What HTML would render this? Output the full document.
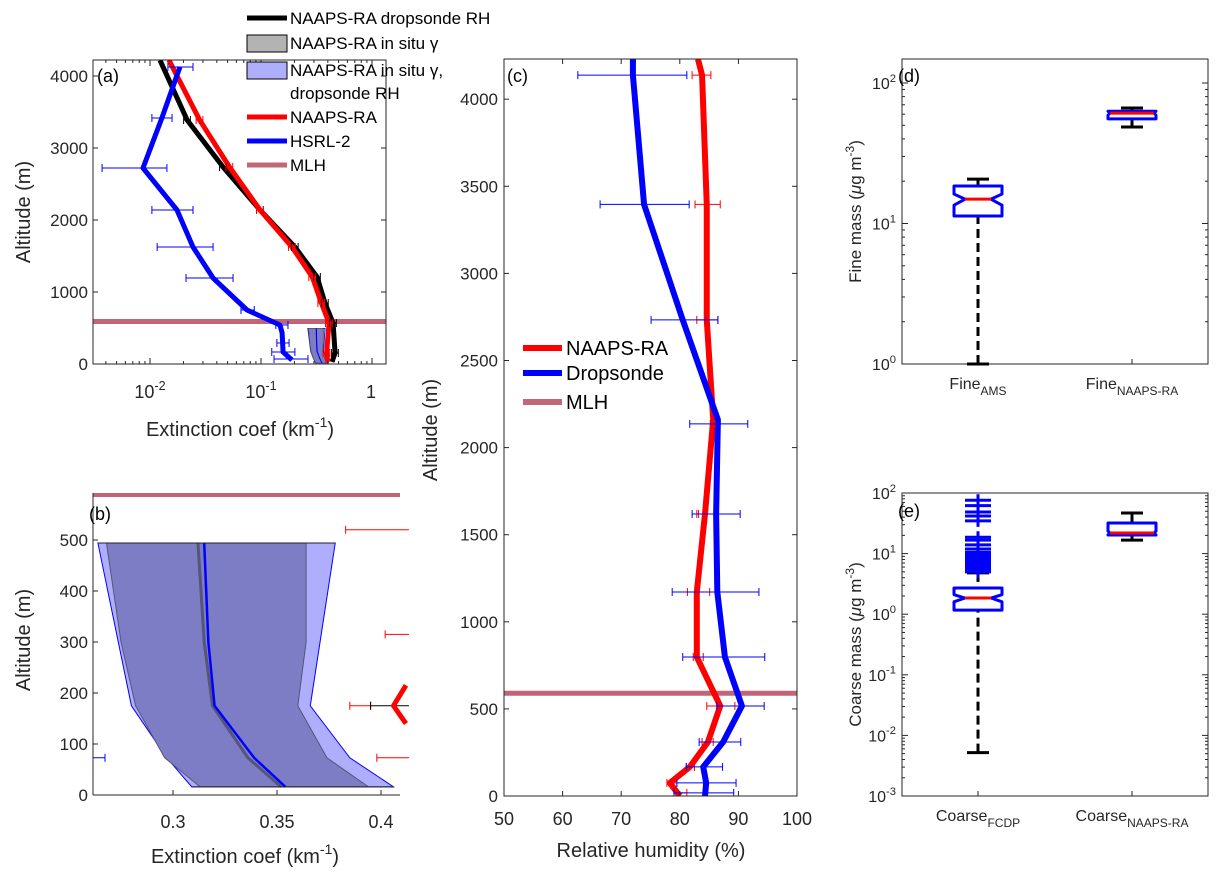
<!DOCTYPE html>
<html><head><meta charset="utf-8"><style>
html,body{margin:0;padding:0;background:#fff;}
svg{display:block;font-family:"Liberation Sans",Arial,sans-serif;}
</style></head><body>
<svg id="fig" width="1221" height="879" viewBox="0 0 1221 879" xmlns="http://www.w3.org/2000/svg">
<defs>
<clipPath id="clipA"><rect x="93" y="60" width="293" height="304"/></clipPath>
<clipPath id="clipB"><rect x="93" y="470" width="316" height="325"/></clipPath>
<clipPath id="clipC"><rect x="504" y="59" width="293" height="737"/></clipPath>
</defs>
</svg>
<script>
// ---------- Panel (a) data ----------
const aBlackAlt=[4220,3389,2736,2139,1625,1208,847,569,153,28];
const aBlackExt=[0.0123,0.0216,0.0455,0.098,0.202,0.32,0.377,0.446,0.465,0.436];
const aRedAlt=[4222,3389,2736,2139,1625,1208,847,569,153,28];
const aRedExt=[0.0148,0.028,0.052,0.098,0.19,0.29,0.35,0.41,0.39,0.40];
const aBlueAlt=[4125,3417,2722,2139,1625,1194,750,542,431,167,56];
const aBlueExt=[0.0186,0.0128,0.00865,0.0175,0.0244,0.037,0.0748,0.148,0.155,0.158,0.19];
const aBlueErrAlt=[4125,3417,2722,2139,1625,1194,750,542,292,167,69];
const aBlueErrLo=[0.0145,0.0104,0.0037,0.0104,0.0116,0.0211,0.066,0.136,0.139,0.125,0.131];
const aBlueErrHi=[0.0244,0.0158,0.0142,0.0244,0.037,0.056,0.087,0.175,0.179,0.202,0.265];
const mlhAlt=590;
// ---------- Panel (b) data ----------
const bOuterAlt=[494,175,73,16];
const bOuterLeft=[0.2639,0.280,0.297,0.309];
const bOuterRight=[0.378,0.366,0.385,0.406];
const bInnerAlt=[494,300,175,73,16];
const bInnerLeft=[0.268,0.275,0.282,0.296,0.313];
const bInnerRight=[0.364,0.364,0.360,0.374,0.394];
const bLineAlt=[494,300,175,73,16];
const bBlueLine=[0.315,0.317,0.320,0.339,0.354];
const bGrayLine=[0.312,0.315,0.319,0.336,0.352];
const bRedErrAlt=[520,315,175,73];
const bRedErrLo=[0.383,0.402,0.385,0.398];
const bRedErrHi=[0.42,0.42,0.395,0.42];
const bRedLineAlt=[215,175,140];
const bRedLineExt=[0.412,0.406,0.412];
// ---------- Panel (c) data ----------
const cRedAlt=[4230,4138,3396,3000,2733,2160,1619,1171,798,517,310,167,75,0];
const cRedRH=[83.1,83.8,84.6,84.6,84.6,85.7,84.3,82.9,82.9,86.9,84.8,81.7,78.3,80.0];
const cBlueAlt=[4230,4138,3396,2733,2160,1619,1171,798,517,310,167,75,0];
const cBlueRH=[72.0,72.0,73.9,80.5,86.5,86.2,86.4,87.7,90.6,87.4,84.0,84.5,84.3];
const cErrAlt=[4138,3396,2733,2136,1619,1171,798,517,310,167,75,18];
const cBlueLo=[62.6,66.4,75.1,81.7,82.1,78.7,80.5,86.3,83.3,81.1,79.5,79.0];
const cBlueHi=[81.2,81.6,86.5,91.6,90.3,93.5,94.5,94.4,90.4,87.3,89.6,89.2];
const cRedLo=[82.1,82.6,82.9,85.2,82.9,81.3,82.3,84.6,83.8,81.1,77.8,79.7];
const cRedHi=[85.3,86.9,86.5,86.0,83.2,85.1,84.0,89.4,85.7,82.5,79.5,81.2];
// ---------- Panel (d) data ----------
const dCats=["AMS","NAAPS-RA"];
const dWhiskLo=[1.0,48.6];
const dQ1=[11.3,55.5];
const dMedian=[14.9,61];
const dQ3=[18.5,63];
const dWhiskHi=[20.7,66.4];
const dNotchLo=[13.5,59];
const dNotchHi=[16.2,63];
// ---------- Panel (e) data ----------
const eCats=["FCDP","NAAPS-RA"];
const eWhiskLo=[0.0052,16.7];
const eQ1=[1.17,20.3];
const eMedian=[1.85,21.9];
const eQ3=[2.7,32];
const eWhiskHi=[4.8,46.8];
const eNotchLo=[1.6,20.5];
const eNotchHi=[2.1,23.5];
const eOutliers=[76,62,48.5,41.7,34.7,18.6,16.7,13.9,11.9,10.5,9.5,8.6,7.8,7.1,6.5,6.0,5.5,5.0];

// ---------- scales ----------
const L10=Math.log10;
const xA=v=>261+111*(L10(v)+1), yA=h=>364-h*0.072;
const xB=v=>173+(v-0.3)*2080, yB=h=>795-h*0.51;
const xC=r=>504+(r-50)*5.86, yC=h=>796-h*0.1742;
const yD=v=>364-140.5*L10(v);
const yE=v=>493+60.6*(2-L10(v));
const dX=[978,1132];

const svg=document.getElementById('fig');
const NS='http://www.w3.org/2000/svg';
function el(tag,attrs,parent){const e=document.createElementNS(NS,tag);for(const k in attrs)e.setAttribute(k,attrs[k]);(parent||svg).appendChild(e);return e;}
function grp(name,clip){const g=el('g',clip?{'clip-path':'url(#'+clip+')'}:{});return g;}
function poly(xs,ys,attrs,parent){return el('polyline',Object.assign({points:xs.map((x,i)=>x+','+ys[i]).join(' '),fill:'none','stroke-linejoin':'round'},attrs),parent);}
function txt(x,y,s,attrs,parent){const t=el('text',Object.assign({x:x,y:y,fill:'#262626'},attrs),parent);t.textContent=s;return t;}
function supTxt(x,y,base,sup,size,parent,anchor){const t=el('text',{x:x,y:y,'font-size':size,fill:'#262626','text-anchor':anchor||'middle'},parent);const a=el('tspan',{},t);a.textContent=base;const b=el('tspan',{dy:-size*0.45,'font-size':size*0.7},t);b.textContent=sup;return t;}
function errbar(x1,x2,y,color,cap,parent){el('line',{x1:x1,x2:x2,y1:y,y2:y,stroke:color,'stroke-width':1},parent);el('line',{x1:x1,x2:x1,y1:y-cap,y2:y+cap,stroke:color,'stroke-width':1},parent);el('line',{x1:x2,x2:x2,y1:y-cap,y2:y+cap,stroke:color,'stroke-width':1},parent);}

// ================= Panel A =================
const gA=grp('panel-a-extinction-profile');
const gAc=grp('panel-a-plot-area','clipA');gA.appendChild(gAc);
const pOuter=el('polygon',{points:bOuterAlt.map((h,i)=>xA(bOuterLeft[i])+','+yA(h)).concat(bOuterAlt.slice().reverse().map((h,i)=>xA(bOuterRight[bOuterAlt.length-1-i])+','+yA(h))).join(' '),fill:'#aeaefc',stroke:'#0000ff','stroke-width':0.8},gAc);

const pInner=el('polygon',{points:bInnerAlt.map((h,i)=>xA(bInnerLeft[i])+','+yA(h)).concat(bInnerAlt.slice().reverse().map((h,i)=>xA(bInnerRight[bInnerAlt.length-1-i])+','+yA(h))).join(' '),fill:'#7d7dc6',stroke:'#555','stroke-width':0.8},gAc);

el('polygon',{points:bInnerAlt.map((h,i)=>xA(bBlueLine[i]-0.004)+','+yA(h)).concat(bInnerAlt.slice().reverse().map((h,i)=>xA(bBlueLine[bInnerAlt.length-1-i]+0.004)+','+yA(h))).join(' '),fill:'#0000ff'},gAc);
const mA=el('line',{x1:93,x2:386,y1:yA(mlhAlt),y2:yA(mlhAlt),stroke:'#b54a60','stroke-width':5,'stroke-opacity':0.85},gAc);

const lBk=poly(aBlackAlt.map((h,i)=>xA(aBlackExt[i])),aBlackAlt.map(yA),{stroke:'#000','stroke-width':5},gAc);

const lRd=poly(aRedAlt.map((h,i)=>xA(aRedExt[i])),aRedAlt.map(yA),{stroke:'#ff0000','stroke-width':5},gAc);

aBlackAlt.forEach((h,i)=>{if(i>0&&i<aBlackAlt.length-1){errbar(xA(aBlackExt[i]*0.93),xA(aBlackExt[i]*1.07),yA(h),'#000',4,gAc);errbar(xA(aRedExt[i]*0.93),xA(aRedExt[i]*1.07),yA(h),'#ff0000',4,gAc);}});
const lBl=poly(aBlueAlt.map((h,i)=>xA(aBlueExt[i])),aBlueAlt.map(yA),{stroke:'#0000ff','stroke-width':5},gAc);

aBlueErrAlt.forEach((h,i)=>errbar(xA(aBlueErrLo[i]),xA(aBlueErrHi[i]),yA(h),'#0000ff',4,gAc));
el('rect',{x:93,y:60,width:293,height:304,fill:'none',stroke:'#262626','stroke-width':1},gA);
[0,1000,2000,3000,4000].forEach(h=>{const y=yA(h);el('line',{x1:93,x2:98,y1:y,y2:y,stroke:'#262626'},gA);el('line',{x1:381,x2:386,y1:y,y2:y,stroke:'#262626'},gA);txt(88,y+6,String(h),{'font-size':17,'text-anchor':'end'},gA);});
for(let d=-3;d<=0;d++)for(let m=1;m<10;m++){const v=m*Math.pow(10,d);const x=xA(v);if(x<93||x>386)continue;const len=m==1?6:3;el('line',{x1:x,x2:x,y1:364,y2:364-len,stroke:'#262626'},gA);el('line',{x1:x,x2:x,y1:60,y2:60+len,stroke:'#262626'},gA);}
supTxt(150,398,'10','-2',18,gA);supTxt(261,398,'10','-1',18,gA);txt(371,398,'1',{'font-size':18,'text-anchor':'middle'},gA);
supTxt(240,436,'Extinction coef (km','-1',20,gA);
txt(30,212,'Altitude (m)',{'font-size':20,'text-anchor':'middle',transform:'rotate(-90 30 212)'},gA);
txt(97,82,'(a)',{'font-size':18,fill:'#000'},gA);
const lg=grp('legend-a');
[['line','#000','NAAPS-RA dropsonde RH',18],['patch','#b3b3b3','NAAPS-RA in situ γ',43],['patch','#aeaefc','NAAPS-RA in situ γ,',70],['line','#ff0000','NAAPS-RA',117],['line','#0000ff','HSRL-2',141],['line','#c06878','MLH',165]].forEach(r=>{
 const e=grp('legend-entry');lg.appendChild(e);
 if(r[0]=='line')el('line',{x1:247,x2:287,y1:r[3],y2:r[3],stroke:r[1],'stroke-width':5},e);
 else el('rect',{x:247,y:r[3]-8,width:40,height:17,fill:r[1],stroke:'#000','stroke-width':1},e);
 txt(290,r[3]+6,r[2],{'font-size':17,fill:'#000'},e);});
txt(290,99,'dropsonde RH',{'font-size':17,fill:'#000'},lg);

// ================= Panel B =================
const gB=grp('panel-b-extinction-zoom');
const gBc=grp('panel-b-plot-area','clipB');gB.appendChild(gBc);
const pbo=el('polygon',{points:bOuterAlt.map((h,i)=>xB(bOuterLeft[i])+','+yB(h)).concat(bOuterAlt.slice().reverse().map((h,i)=>xB(bOuterRight[bOuterAlt.length-1-i])+','+yB(h))).join(' '),fill:'#aeaefc',stroke:'#0000ff','stroke-width':1},gBc);

const pbi=el('polygon',{points:bInnerAlt.map((h,i)=>xB(bInnerLeft[i])+','+yB(h)).concat(bInnerAlt.slice().reverse().map((h,i)=>xB(bInnerRight[bInnerAlt.length-1-i])+','+yB(h))).join(' '),fill:'#7d7dc6',stroke:'#555577','stroke-width':1},gBc);

poly(bLineAlt.map((h,i)=>xB(bGrayLine[i])),bLineAlt.map(yB),{stroke:'#555577','stroke-width':3},gBc);
const bbl=poly(bLineAlt.map((h,i)=>xB(bBlueLine[i])),bLineAlt.map(yB),{stroke:'#0000ff','stroke-width':2.5},gBc);

el('line',{x1:xB(bOuterLeft[0]),x2:xB(bOuterRight[0]),y1:yB(494),y2:yB(494),stroke:'#222','stroke-width':1},gBc);
el('line',{x1:xB(bOuterLeft[3]),x2:xB(bOuterRight[3]),y1:yB(16),y2:yB(16),stroke:'#222','stroke-width':1},gBc);
bRedErrAlt.forEach((h,i)=>errbar(xB(bRedErrLo[i]),xB(bRedErrHi[i]),yB(h),'#ff0000',4,gBc));
errbar(xB(0.395),xB(0.42),yB(175),'#000',4,gBc);
errbar(xB(0.25),xB(0.2673),yB(73),'#0000ff',4,gBc);
poly(bRedLineAlt.map((h,i)=>xB(bRedLineExt[i])),bRedLineAlt.map(yB),{stroke:'#ff0000','stroke-width':5},gBc);
const mB=el('line',{x1:93,x2:400,y1:495,y2:495,stroke:'#b54a60','stroke-width':4,'stroke-opacity':0.85},gB);

el('line',{x1:93,x2:93,y1:493,y2:795,stroke:'#262626'},gB);
el('line',{x1:93,x2:400,y1:795,y2:795,stroke:'#262626'},gB);
[0,100,200,300,400,500].forEach(h=>{const y=yB(h);el('line',{x1:93,x2:98,y1:y,y2:y,stroke:'#262626'},gB);txt(88,y+6,String(h),{'font-size':17,'text-anchor':'end'},gB);});
[[0.3,'0.3'],[0.35,'0.35'],[0.4,'0.4']].forEach(t=>{const x=xB(t[0]);el('line',{x1:x,x2:x,y1:795,y2:790,stroke:'#262626'},gB);txt(x,828,t[1],{'font-size':18,'text-anchor':'middle'},gB);});
supTxt(245,863,'Extinction coef (km','-1',20,gB);
txt(30,640,'Altitude (m)',{'font-size':20,'text-anchor':'middle',transform:'rotate(-90 30 640)'},gB);
txt(89,520,'(b)',{'font-size':18,fill:'#000'},gB);
[gA,gB].forEach(p=>{p.querySelectorAll('text').forEach(t=>{if(t.textContent.indexOf('Extinction')===0){const c=el('tspan',{dy:20*0.45,'font-size':20},t);c.textContent=')';}});});

// ================= Panel C =================
const gC=grp('panel-c-relative-humidity');
const gCc=grp('panel-c-plot-area','clipC');gC.appendChild(gCc);
const mC=el('line',{x1:504,x2:797,y1:yC(mlhAlt),y2:yC(mlhAlt),stroke:'#b54a60','stroke-width':5,'stroke-opacity':0.85},gCc);

const cr=poly(cRedAlt.map((h,i)=>xC(cRedRH[i])),cRedAlt.map(yC),{stroke:'#ff0000','stroke-width':6},gCc);

const cb=poly(cBlueAlt.map((h,i)=>xC(cBlueRH[i])),cBlueAlt.map(yC),{stroke:'#0000ff','stroke-width':6},gCc);

cErrAlt.forEach((h,i)=>{errbar(xC(cRedLo[i]),xC(cRedHi[i]),yC(h),'#ff0000',4,gCc);errbar(xC(cBlueLo[i]),xC(cBlueHi[i]),yC(h),'#0000ff',4,gCc);});
el('rect',{x:504,y:59,width:293,height:737,fill:'none',stroke:'#262626'},gC);
[0,500,1000,1500,2000,2500,3000,3500,4000].forEach(h=>{const y=yC(h);el('line',{x1:504,x2:509,y1:y,y2:y,stroke:'#262626'},gC);el('line',{x1:792,x2:797,y1:y,y2:y,stroke:'#262626'},gC);txt(498,y+6,String(h),{'font-size':17,'text-anchor':'end'},gC);});
[50,60,70,80,90,100].forEach(r=>{const x=xC(r);el('line',{x1:x,x2:x,y1:796,y2:791,stroke:'#262626'},gC);el('line',{x1:x,x2:x,y1:59,y2:64,stroke:'#262626'},gC);txt(x,825,String(r),{'font-size':18,'text-anchor':'middle'},gC);});
txt(651,857,'Relative humidity (%)',{'font-size':20,'text-anchor':'middle'},gC);
txt(437,430,'Altitude (m)',{'font-size':20,'text-anchor':'middle',transform:'rotate(-90 437 430)'},gC);
txt(507,82,'(c)',{'font-size':18,fill:'#000'},gC);
const lgc=grp('legend-c');
[['#ff0000','NAAPS-RA',348],['#0000ff','Dropsonde',373],['#c06878','MLH',402]].forEach(r=>{const e=grp('legend-entry');lgc.appendChild(e);el('line',{x1:523,x2:562,y1:r[2],y2:r[2],stroke:r[0],'stroke-width':6},e);txt(566,r[2]+7,r[1],{'font-size':20,fill:'#000'},e);});

// ================= Box plots =================
function boxPanel(name,top,bot,yF,decades,cats,lo,q1,med,q3,hi,nlo,nhi,label,prefix,outl){
 const g=grp(name);
 el('rect',{x:902,y:top,width:306,height:bot-top,fill:'none',stroke:'#262626'},g);
 decades.forEach(d=>{const y=yF(Math.pow(10,d));el('line',{x1:902,x2:908,y1:y,y2:y,stroke:'#262626'},g);el('line',{x1:1202,x2:1208,y1:y,y2:y,stroke:'#262626'},g);supTxt(896,y+6,'10',String(d),16,g,'end');
  for(let m=2;m<10;m++){const yy=yF(m*Math.pow(10,d));if(yy<top)continue;el('line',{x1:902,x2:905,y1:yy,y2:yy,stroke:'#262626'},g);el('line',{x1:1205,x2:1208,y1:yy,y2:yy,stroke:'#262626'},g);}});
 cats.forEach((c,i)=>{
  const cx=dX[i];
  el('line',{x1:cx,x2:cx,y1:bot,y2:bot-5,stroke:'#262626'},g);
  const gb=grp('box-'+prefix.toLowerCase()+'-'+c.toLowerCase());g.appendChild(gb);
  el('line',{x1:cx,x2:cx,y1:yF(lo[i]),y2:yF(q1[i]),stroke:'#000','stroke-width':3,'stroke-dasharray':i==0?'9,5':'none'},gb);
  el('line',{x1:cx,x2:cx,y1:yF(hi[i]),y2:yF(q3[i]),stroke:'#000','stroke-width':3,'stroke-dasharray':i==0?'9,5':'none'},gb);
  el('line',{x1:cx-11,x2:cx+11,y1:yF(lo[i]),y2:yF(lo[i]),stroke:'#000','stroke-width':3},gb);
  el('line',{x1:cx-11,x2:cx+11,y1:yF(hi[i]),y2:yF(hi[i]),stroke:'#000','stroke-width':3},gb);
  if(outl&&i==0)outl.forEach(v=>{const y=yF(v);el('line',{x1:cx-13,x2:cx+13,y1:y,y2:y,stroke:'#0000ff','stroke-width':3},gb);el('line',{x1:cx,x2:cx,y1:y-6,y2:y+6,stroke:'#0000ff','stroke-width':3},gb);});
  const w=24,nw=i==0?13:22;
  const pts=[[cx-w,yF(q3[i])],[cx+w,yF(q3[i])],[cx+w,yF(nhi[i])],[cx+nw,yF(med[i])],[cx+w,yF(nlo[i])],[cx+w,yF(q1[i])],[cx-w,yF(q1[i])],[cx-w,yF(nlo[i])],[cx-nw,yF(med[i])],[cx-w,yF(nhi[i])]];
  el('polygon',{points:pts.map(p=>p.join(',')).join(' '),fill:'#fff',stroke:'#0000ff','stroke-width':3,'stroke-linejoin':'round'},gb);
  el('line',{x1:cx-nw,x2:cx+nw,y1:yF(med[i]),y2:yF(med[i]),stroke:'#ff0000','stroke-width':3},gb);
  const t=el('text',{x:cx,y:bot+25,'font-size':16,'text-anchor':'middle',fill:'#262626'},g);
  const a=el('tspan',{},t);a.textContent=prefix;const b=el('tspan',{dy:6,'font-size':12},t);b.textContent=c;
 });
 const cy=(top+bot)/2;
 const t=el('text',{x:861,y:cy,'font-size':17,'text-anchor':'middle',fill:'#262626',transform:'rotate(-90 861 '+cy+')'},g);
 const a=el('tspan',{},t);a.textContent=label+' (';const m=el('tspan',{'font-style':'italic'},t);m.textContent='μ';const r=el('tspan',{},t);r.textContent='g m';const s=el('tspan',{dy:-7,'font-size':12},t);s.textContent='-3';const e=el('tspan',{dy:7},t);e.textContent=')';
 return g;
}
const gD=boxPanel('panel-d-fine-mass',59,364,yD,[0,1,2],dCats,dWhiskLo,dQ1,dMedian,dQ3,dWhiskHi,dNotchLo,dNotchHi,'Fine mass','Fine',null);
txt(898,82,'(d)',{'font-size':18,fill:'#000'},gD);
const gE=boxPanel('panel-e-coarse-mass',493,796,yE,[-3,-2,-1,0,1,2],eCats,eWhiskLo,eQ1,eMedian,eQ3,eWhiskHi,eNotchLo,eNotchHi,'Coarse mass','Coarse',eOutliers);
txt(898,517,'(e)',{'font-size':18,fill:'#000'},gE);
</script>
</body></html>
